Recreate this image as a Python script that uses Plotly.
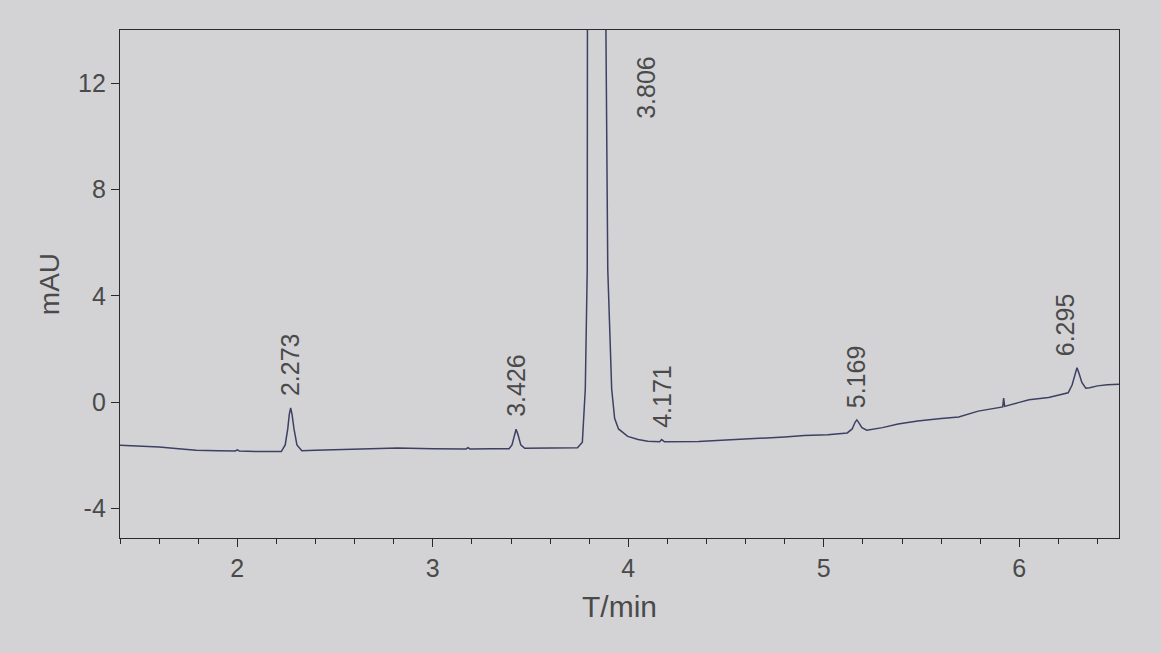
import numpy as np
import plotly.graph_objects as go

# ---- data ----
time_min = [1.40, 1.50, 1.60, 1.70, 1.79, 1.90, 1.99, 2.00, 2.01, 2.10, 2.18,
            2.225, 2.245, 2.258, 2.266, 2.273, 2.280, 2.290, 2.305, 2.330,
            2.40, 2.50, 2.65, 2.82, 3.00, 3.10, 3.17, 3.18, 3.19, 3.30,
            3.39, 3.405, 3.418, 3.426, 3.436, 3.450, 3.470, 3.55, 3.65,
            3.74, 3.765, 3.78, 3.79, 3.795, 3.806, 3.885, 3.895, 3.915, 3.93, 3.95,
            3.997, 4.05, 4.10, 4.16, 4.171, 4.185, 4.25, 4.36, 4.50, 4.65,
            4.80, 4.90, 5.02, 5.12, 5.145, 5.160, 5.169, 5.178, 5.195, 5.22,
            5.30, 5.38, 5.48, 5.60, 5.69, 5.79, 5.87, 5.915, 5.92, 5.925,
            6.00, 6.05, 6.15, 6.22, 6.25, 6.270, 6.285, 6.295, 6.305, 6.320,
            6.340, 6.36, 6.40, 6.45, 6.51]
absorbance = [-1.61, -1.64, -1.68, -1.74, -1.80, -1.82, -1.83, -1.79, -1.83, -1.85, -1.86,
              -1.85, -1.60, -1.00, -0.45, -0.21, -0.45, -1.00, -1.60, -1.82,
              -1.80, -1.78, -1.75, -1.72, -1.74, -1.75, -1.75, -1.70, -1.75, -1.74,
              -1.74, -1.60, -1.22, -1.01, -1.22, -1.60, -1.73, -1.72, -1.72,
              -1.71, -1.50, 0.50, 5.0, 14.5, 150.0, 14.5, 5.0, 0.5, -0.6, -1.0,
              -1.28, -1.40, -1.46, -1.48, -1.40, -1.48, -1.48, -1.47, -1.42, -1.37,
              -1.30, -1.25, -1.22, -1.15, -1.00, -0.75, -0.66, -0.75, -0.95, -1.05,
              -0.95, -0.81, -0.70, -0.61, -0.55, -0.33, -0.22, -0.17, 0.16, -0.15,
              0.00, 0.10, 0.18, 0.30, 0.36, 0.65, 1.10, 1.30, 1.10, 0.75,
              0.53, 0.55, 0.62, 0.66, 0.68]

peak_times = [2.273, 3.426, 3.806, 4.171, 5.169, 6.295]
peak_labels = ["2.273", "3.426", "3.806", "4.171", "5.169", "6.295"]

x_ticks = [2, 3, 4, 5, 6]
y_ticks = [-4, 0, 4, 8, 12]

# ---- figure ----
line_col = "#3d4063"
axis_col = "#2a2a2a"
text_col = "#4a4a4a"
bg = "#d3d3d5"
font_family = "Liberation Sans, Arial, sans-serif"

fig = go.Figure()
fig.add_trace(go.Scatter(x=time_min, y=absorbance, mode="lines",
                         line=dict(color=line_col, width=1.5),
                         hoverinfo="skip", showlegend=False))

t_arr = np.array(time_min)
a_arr = np.array(absorbance)
y_top = 14.0
for t, lab in zip(peak_times, peak_labels):
    near = np.abs(t_arr - t) < 0.03
    apex = float(a_arr[near].max())
    if apex > y_top:
        fig.add_annotation(x=t, y=y_top - 0.9, text=lab, textangle=-90,
                           showarrow=False, xanchor="center", yanchor="top",
                           xshift=56, yshift=0,
                           font=dict(size=25, color=text_col, family=font_family))
    else:
        xs = -12 if lab == "6.295" else 0
        fig.add_annotation(x=t, y=apex, text=lab, textangle=-90,
                           showarrow=False, xanchor="center", yanchor="bottom",
                           xshift=xs, yshift=10,
                           font=dict(size=25, color=text_col, family=font_family))

axis_common = dict(showgrid=False, zeroline=False, showline=True, mirror=True,
                   linecolor=axis_col, linewidth=1.3, ticks="outside",
                   ticklen=8, tickwidth=1.3, tickcolor=axis_col,
                   tickfont=dict(size=25, color=text_col, family=font_family))

fig.update_xaxes(range=[1.40, 6.51], tickmode="array", tickvals=x_ticks,
                 ticktext=[str(v) for v in x_ticks],
                 minor=dict(ticks="outside", ticklen=5, tickwidth=1.2,
                            tickcolor=axis_col, dtick=0.2, tick0=0),
                 title=dict(text="T/min", standoff=14,
                            font=dict(size=30, color=text_col, family=font_family)),
                 **axis_common)
fig.update_yaxes(range=[-5.1, 14.0], tickmode="array", tickvals=y_ticks,
                 ticktext=[str(v) for v in y_ticks],
                 title=dict(text="mAU", standoff=10,
                            font=dict(size=28, color=text_col, family=font_family)),
                 **axis_common)

fig.update_layout(width=1161, height=653,
                  margin=dict(l=120, r=42, t=30, b=115),
                  paper_bgcolor=bg, plot_bgcolor=bg,
                  font=dict(family=font_family, color=text_col))

fig.write_html("out.html",
               config={"displayModeBar": False},
               post_script="document.body.style.margin='0';"
                           "document.body.style.background='" + bg + "';")
